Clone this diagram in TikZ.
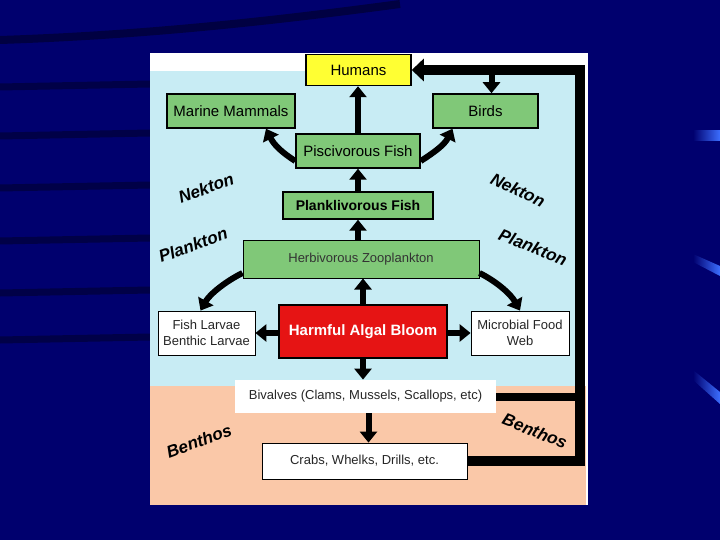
\documentclass[tikz,border=0pt]{standalone}
\usepackage{fontspec}
\setmainfont{Liberation Sans}
\usetikzlibrary{arrows.meta,calc}
\definecolor{navy}{RGB}{0,0,110}
\definecolor{seablue}{RGB}{200,236,244}
\definecolor{peach}{RGB}{250,200,168}
\definecolor{boxgreen}{RGB}{128,200,120}
\definecolor{hyellow}{RGB}{255,255,51}
\definecolor{habred}{RGB}{230,20,20}
\definecolor{hilite}{RGB}{60,110,255}
\begin{document}
\begin{tikzpicture}[x=1pt,y=-1pt,
 box/.style={draw=black, line width=1.5pt, inner sep=0pt, align=center, font=\fontsize{15}{17}\selectfont},
 greenbox/.style={box, fill=boxgreen},
 whitebox/.style={draw=black, line width=0.8pt, fill=white, inner sep=0pt, align=center, font=\fontsize{13}{16}\selectfont, text=black!85},
 flow/.style={line width=6pt, -{Triangle[width=17pt,length=11pt]}},
 bigline/.style={line width=10pt, line join=miter},
 zone/.style={font=\fontsize{17}{19}\selectfont\bfseries\itshape, inner sep=1pt}
]
% background
\fill[navy] (0,0) rectangle (720,540);
\useasboundingbox (0,0) rectangle (720,540);
\draw[black, opacity=0.4, line width=8pt] (0,40) .. controls (150,35) and (280,20) .. (400,4);
\foreach \yy in {87,136,188,241,293,340}
  \draw[black, opacity=0.35, line width=7pt] (0,\yy) -- (150,\yy-3);
\shade[left color=navy, right color=hilite] (693,131) rectangle (720,141);
\shade[left color=navy, right color=hilite] (693,254) -- (720,266) -- (720,276) -- (693,262) -- cycle;
\shade[left color=navy, right color=hilite] (693,370) -- (720,392) -- (720,404) -- (693,380) -- cycle;
% panel
\fill[white] (150,53) rectangle (588,505);
\fill[seablue] (150,71) rectangle (575,386);
\fill[peach] (150,386) rectangle (586,505);
% nodes
\node[box, fill=hyellow, minimum width=105pt, minimum height=31pt] (humans) at (358.5,70) {Humans};
\node[greenbox, minimum width=128pt, minimum height=34pt] (mammals) at (231,111) {Marine Mammals};
\node[greenbox, minimum width=105pt, minimum height=34pt] (birds) at (485.5,111) {Birds};
\node[greenbox, minimum width=124pt, minimum height=34pt] (pisc) at (358,151) {Piscivorous Fish};
\node[greenbox, minimum width=150pt, minimum height=27pt, font=\fontsize{14}{17}\selectfont\bfseries] (plank) at (358,205.5) {Planklivorous Fish};
\node[greenbox, line width=1pt, minimum width=236pt, minimum height=38pt, font=\fontsize{13}{16}\selectfont, text=black!80] (herb) at (361,259) {Herbivorous Zooplankton};
\node[box, fill=habred, text=white, minimum width=168pt, minimum height=53pt, font=\fontsize{15}{17}\selectfont\bfseries] (hab) at (363,331.5) {Harmful Algal Bloom};
\node[whitebox, minimum width=97pt, minimum height=44pt] (fish) at (206.5,333) {Fish Larvae\\Benthic Larvae};
\node[whitebox, minimum width=98pt, minimum height=44pt] (micro) at (520,333) {Microbial Food\\Web};
\node[whitebox, draw=none, minimum width=261pt, minimum height=33pt] (biv) at (365.5,396.5) {Bivalves (Clams, Mussels, Scallops, etc)};
\node[whitebox, minimum width=205pt, minimum height=36pt] (crabs) at (364.5,461) {Crabs, Whelks, Drills, etc.};
% zone labels
\node[zone, rotate=20] (nek1) at (206,188) {Nekton};
\node[zone, rotate=20] (pla1) at (193,245) {Plankton};
\node[zone, rotate=20] (ben1) at (199,441) {Benthos};
\node[zone, rotate=-25] (nek2) at (518,190) {Nekton};
\node[zone, rotate=-22] (pla2) at (533,247) {Plankton};
\node[zone, rotate=-22] (ben2) at (535,431) {Benthos};
% connectors
\coordinate (tr) at (580,70);
\coordinate (br) at (580,461);
\draw[bigline, -{Triangle[width=22pt,length=12pt]}] (crabs.east) -- (br) -- (tr) -- (humans.east);
\draw[line width=8pt] (biv.east) -- (biv.east -| br);
\draw[flow] ([xshift=6pt]birds.north |- tr) -- ([xshift=6pt]birds.north);
\draw[flow] (pisc.north) -- (pisc.north |- humans.south);
\draw[flow] ([yshift=-10pt]pisc.west) .. controls +(-14,-9) and +(8,16) .. ([xshift=35pt]mammals.south);
\draw[flow] ([yshift=-10pt]pisc.east) .. controls +(14,-9) and +(-8,16) .. ([xshift=-33pt]birds.south);
\draw[flow] (plank.north) -- (plank.north |- pisc.south);
\draw[flow] (herb.north -| plank.north) -- (plank.south);
\draw[flow] (hab.north) -- (hab.north |- herb.south);
\draw[flow] ([yshift=-14pt]herb.west) .. controls +(-18,9) and +(9,-16) .. ([xshift=-6pt]fish.north);
\draw[flow] ([yshift=-14pt]herb.east) .. controls +(18,9) and +(-9,-16) .. (micro.north);
\draw[flow] (hab.west |- fish.east) -- (fish.east);
\draw[flow] (hab.east |- micro.west) -- (micro.west);
\draw[flow] (hab.south) -- (hab.south |- biv.north);
\draw[flow] ([xshift=3pt]biv.south) -- ([xshift=3pt]biv.south |- crabs.north);
\end{tikzpicture}
\end{document}
